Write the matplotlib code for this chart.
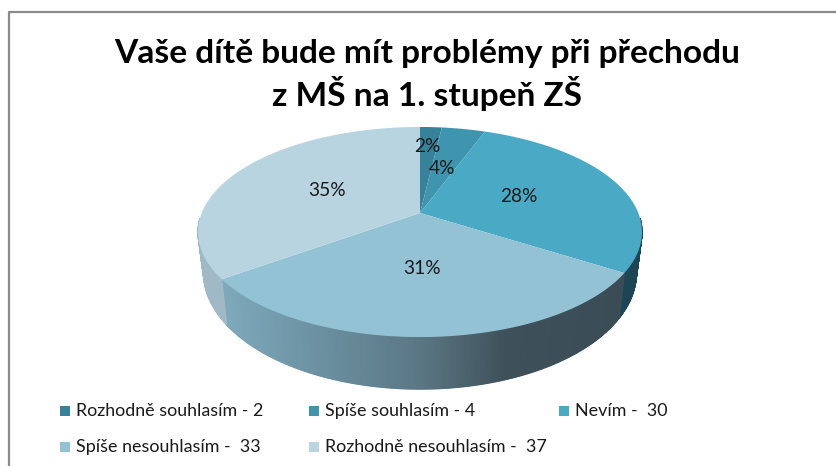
import numpy as np
import matplotlib
matplotlib.use('Agg')
import matplotlib.pyplot as plt
from matplotlib.colors import LinearSegmentedColormap
from matplotlib.patches import Polygon, Rectangle

plt.rcParams['font.family'] = ['Lato', 'DejaVu Sans']

title = 'Vaše dítě bude mít problémy při přechodu\nz MŠ na 1. stupeň ZŠ'
categories = ['Rozhodně souhlasím', 'Spíše souhlasím', 'Nevím',
              'Spíše nesouhlasím', 'Rozhodně nesouhlasím']
values = [2, 4, 30, 33, 37]
legend_labels = ['Rozhodně souhlasím - 2', 'Spíše souhlasím - 4', 'Nevím -  30',
                 'Spíše nesouhlasím -  33', 'Rozhodně nesouhlasím -  37']
colors = ['#37829b', '#4095ae', '#4aa9c4', '#92c2d4', '#b9d4e1']

# pie geometry in pixels, perspective tilt
cx, cy = 420, 213
A, B, k = 218.3, 101.6, 0.181


def top_rim(t):
    d = 1 + k * np.cos(t)
    return cx + A * np.sin(t) / d, cy - B * np.cos(t) / d


def low_rim(t):
    x, y = top_rim(t)
    return cx + (x - cx) * 0.975, 251.4 + 1.11 * (y - cy)


fig = plt.figure(figsize=(8.36, 4.66), dpi=100)
ax = fig.add_axes([0, 0, 1, 1])
ax.set_xlim(0, 836)
ax.set_ylim(466, 0)
ax.axis('off')

# chart frame
ax.plot([9, 9, 836], [466, 12, 12], color='#8a8a8a', lw=1.6)

edges = np.cumsum([0] + values) / sum(values) * 2 * np.pi

# side of the pie, strips so the shading can change along it
front = LinearSegmentedColormap.from_list('front', [
    (0.0, '#7ea9bb'), (0.2, '#6d94a5'), (0.5, '#5a7683'),
    (0.72, '#3e5059'), (1.0, '#3a4c55')])
for i in [2, 3, 4]:
    ts = np.linspace(edges[i], edges[i + 1], 300)
    for t0, t1 in zip(ts[:-1], ts[1:]):
        if np.cos((t0 + t1) / 2) > -0.05:
            continue
        x0, y0 = top_rim(t0)
        x1, y1 = top_rim(t1)
        x2, y2 = low_rim(t1)
        x3, y3 = low_rim(t0)
        if i == 2:
            c = '#1c4655'
        elif i == 4:
            c = '#a0b9c6'
        else:
            c = front((x0 - 225) / (620 - 225))
        ax.add_patch(Polygon([(x0, y0), (x1, y1), (x2, y2), (x3, y3)],
                             facecolor=c, edgecolor=c, lw=0.9))

# top face
for i, c in enumerate(colors):
    ts = np.linspace(edges[i], edges[i + 1], 200)
    xs, ys = top_rim(ts)
    pts = [(cx, cy)] + list(zip(xs, ys))
    ax.add_patch(Polygon(pts, facecolor=c, edgecolor='none', zorder=3))

# percent labels
label_xy = [(427, 147), (442, 168), (519, 197), (422, 268), (327, 191)]
for v, (x, y) in zip(values, label_xy):
    ax.text(x, y, '%d%%' % round(100 * v / sum(values)), ha='center', va='center',
            fontsize=13.8, color='#1a1a1a', zorder=5)

ax.text(427, 75, title, ha='center', va='center', fontsize=24.1, fontweight='bold',
        color='black', linespacing=1.25, zorder=5)

# legend
legend_x = [60, 309, 559, 60, 309]
legend_y = [411, 411, 411, 447, 447]
for lab, c, x, y in zip(legend_labels, colors, legend_x, legend_y):
    ax.add_patch(Rectangle((x, y - 5), 10, 10, facecolor=c, edgecolor='none'))
    ax.text(x + 16, y, lab, ha='left', va='center', fontsize=12.9, color='#1a1a1a')

fig.savefig('out.png', dpi=100)
